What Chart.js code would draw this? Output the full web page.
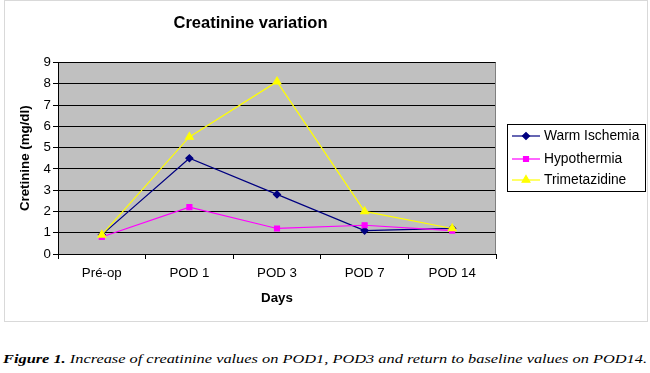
<!DOCTYPE html>
<html>
<head>
<meta charset="utf-8">
<script src="https://cdn.jsdelivr.net/npm/chart.js@4.4.1/dist/chart.umd.min.js"></script>
<style>
  html, body { margin: 0; padding: 0; background: #fff; width: 650px; height: 373px; overflow: hidden; }
  #frame { position: absolute; left: 4px; top: 0px; width: 642px; height: 320px; border: 1px solid #d9d9d9; }
  #frame canvas { display: block; }
  #caption { position: absolute; left: 3px; top: 351px; white-space: nowrap; font-family: "Liberation Serif", serif; font-style: italic; font-size: 13px; line-height: 15px; color: #000; transform-origin: 0 0; }
  #caption b { font-weight: bold; }
</style>
</head>
<body>
<div id="frame"><canvas id="c" width="642" height="320"></canvas></div>
<div id="caption"><b>Figure 1.</b> Increase of creatinine values on POD1, POD3 and return to baseline values on POD14.</div>
<script>
const categories = ['Pré-op', 'POD 1', 'POD 3', 'POD 7', 'POD 14'];
const warmIschemia = [0.9, 4.5, 2.8, 1.1, 1.2];
const hypothermia = [0.8, 2.2, 1.2, 1.35, 1.1];
const trimetazidine = [0.9, 5.5, 8.1, 2.0, 1.2];
const yTicks = [0, 1, 2, 3, 4, 5, 6, 7, 8, 9];

const SANS = '"Liberation Sans", Arial, sans-serif';

// fit caption width
(function(){
  const cap = document.getElementById('caption');
  const w = cap.getBoundingClientRect().width;
  cap.style.transform = 'scaleX(' + (644 / w) + ')';
})();

const plotBg = {
  id: 'plotBg',
  beforeDraw(chart) {
    const {ctx, chartArea: a} = chart;
    ctx.save();
    ctx.fillStyle = '#C0C0C0';
    ctx.fillRect(a.left, a.top, a.right - a.left, a.bottom - a.top);
    ctx.restore();
  },
  afterDatasetsDraw(chart) {
    const {ctx, chartArea: a} = chart;
    ctx.save();
    ctx.strokeStyle = '#808080';
    ctx.lineWidth = 1;
    ctx.beginPath();
    ctx.moveTo(Math.round(a.right) - 0.5, a.top);
    ctx.lineTo(Math.round(a.right) - 0.5, a.bottom);
    ctx.stroke();
    ctx.restore();
  }
};

const boxLegend = {
  id: 'boxLegend',
  afterDraw(chart) {
    const ctx = chart.ctx;
    const x0 = 502.5, y0 = 123.5, w = 138, h = 67;
    ctx.save();
    ctx.fillStyle = '#fff';
    ctx.fillRect(x0, y0, w, h);
    ctx.strokeStyle = '#000';
    ctx.lineWidth = 1;
    ctx.strokeRect(x0, y0, w, h);
    const rows = [135, 158, 179];
    chart.data.datasets.forEach((ds, i) => {
      const y = rows[i];
      ctx.strokeStyle = ds.borderColor;
      ctx.lineWidth = 1.2;
      ctx.beginPath();
      ctx.moveTo(507, y);
      ctx.lineTo(535, y);
      ctx.stroke();
      ctx.fillStyle = ds.pointBackgroundColor;
      ctx.strokeStyle = ds.pointBorderColor;
      Chart.helpers.drawPoint(ctx, {pointStyle: ds.pointStyle, radius: ds.pointRadius, borderWidth: 1, rotation: 0}, 521, y);
      ctx.fillStyle = '#000';
      ctx.font = '13.8px ' + SANS;
      ctx.textBaseline = 'middle';
      ctx.textAlign = 'left';
      ctx.fillText(ds.label, 539, y + 0.5);
    });
    ctx.restore();
  }
};

const axisFont = { family: SANS, size: 13.3 };
const boldFont = { family: SANS, size: 13.3, weight: 'bold' };

new Chart(document.getElementById('c'), {
  type: 'line',
  data: {
    labels: categories,
    datasets: [
      { label: 'Warm Ischemia', data: warmIschemia, borderColor: '#000080', backgroundColor: '#000080',
        pointBackgroundColor: '#000080', pointBorderColor: '#000080', pointStyle: 'rectRot', pointRadius: 3.5, borderWidth: 1.2, order: 3 },
      { label: 'Hypothermia', data: hypothermia, borderColor: '#FF00FF', backgroundColor: '#FF00FF',
        pointBackgroundColor: '#FF00FF', pointBorderColor: '#FF00FF', pointStyle: 'rect', pointRadius: 3.5, borderWidth: 1.2, order: 2 },
      { label: 'Trimetazidine', data: trimetazidine, borderColor: '#FFFF00', backgroundColor: '#FFFF00',
        pointBackgroundColor: '#FFFF00', pointBorderColor: '#FFFF00', pointStyle: 'triangle', pointRadius: 4.5, borderWidth: 1.2, order: 1 }
    ]
  },
  options: {
    responsive: false,
    animation: false,
    events: [],
    layout: { padding: { left: 0, right: 151, top: 0, bottom: 7 } },
    elements: { line: { tension: 0 }, point: { borderWidth: 1 } },
    plugins: {
      legend: { display: false },
      tooltip: { enabled: false },
      title: {
        display: true,
        text: 'Creatinine variation',
        color: '#000',
        font: { family: SANS, size: 16.5, weight: 'bold' },
        padding: { top: 13, bottom: 28.7 }
      }
    },
    scales: {
      x: {
        type: 'category',
        offset: true,
        grid: { offset: true, drawOnChartArea: false, color: '#000', tickLength: 5, tickColor: '#000' },
        border: { color: '#000', width: 1 },
        ticks: { color: '#000', font: axisFont, padding: 6, maxRotation: 0, autoSkip: false },
        title: { display: true, text: 'Days', color: '#000', font: boldFont, padding: { top: 0, bottom: 8 } },
        afterFit(scale) { scale.height = 60; }
      },
      y: {
        min: 0,
        max: 9,
        afterBuildTicks(scale) { scale.ticks = yTicks.map(v => ({ value: v })); },
        grid: { color: '#000', tickLength: 5, tickColor: '#000', lineWidth: 1 },
        border: { color: '#000', width: 1 },
        ticks: { color: '#000', font: axisFont, padding: 2, stepSize: 1 },
        title: { display: true, text: 'Cretinine (mg/dl)', color: '#000', font: boldFont, padding: { top: 12, bottom: 0 } },
        afterFit(scale) { scale.width = 53; }
      }
    }
  },
  plugins: [plotBg, boxLegend]
});
</script>
</body>
</html>
